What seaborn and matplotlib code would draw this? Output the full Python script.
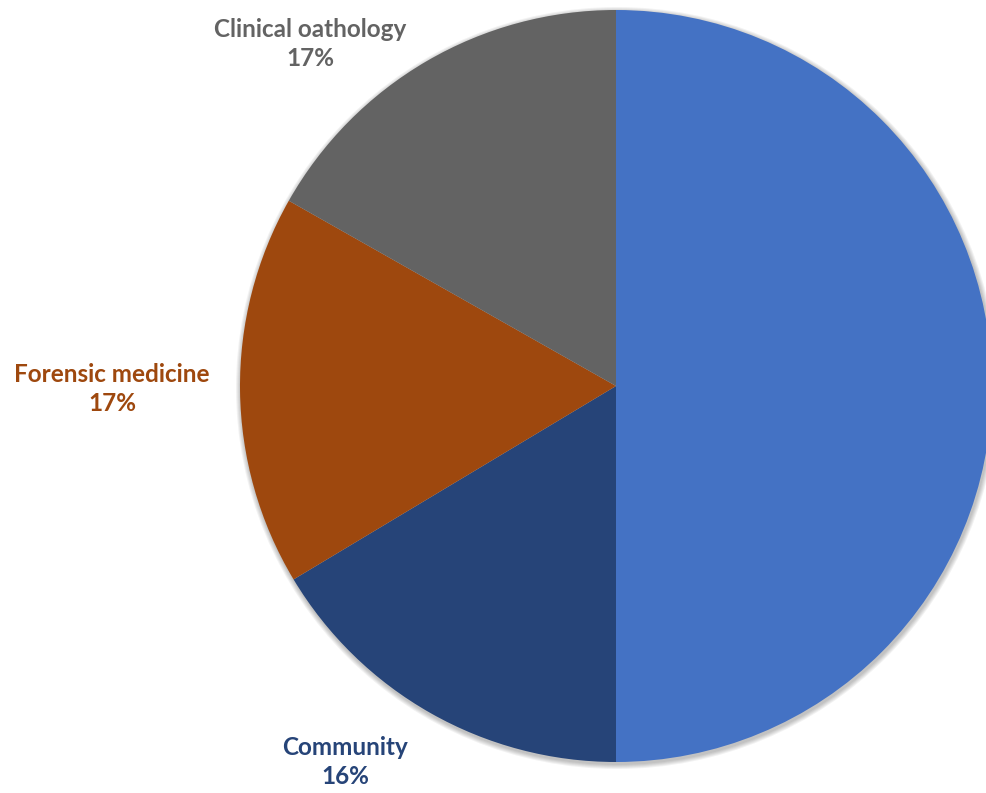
import matplotlib
matplotlib.use("Agg")
import matplotlib.pyplot as plt
from matplotlib.patches import Circle
import seaborn as sns

# slice data (clockwise from 12 o'clock); the big blue slice carries no visible label
categories = ["", "Community", "Forensic medicine", "Clinical oathology"]
shares = [50, 16.4, 16.8, 16.8]
slice_colors = ["#4472C4", "#264478", "#9E480E", "#636363"]
label_colors = ["#4472C4", "#264478", "#9E480E", "#636363"]


def main():
    sns.set_theme(style="white")
    plt.rcParams["font.family"] = ["Lato", "DejaVu Sans"]

    fig = plt.figure(figsize=(9.87, 7.93), dpi=100)
    ax = fig.add_axes([0, 0, 1, 1])

    cx, cy, r = 616, 407, 376
    # soft shadow round the pie
    for k in range(1, 6):
        ax.add_patch(Circle((cx + 1, cy - 2), r + k, color="black",
                            alpha=0.05, zorder=0, linewidth=0))

    ax.pie(shares, colors=slice_colors, startangle=90, counterclock=False,
           center=(cx, cy), radius=r, frame=True,
           wedgeprops=dict(linewidth=0))
    ax.set_xlim(0, 987)
    ax.set_ylim(0, 793)
    ax.set_aspect("equal")
    ax.axis("off")

    # label spots (pixel coordinates, Excel "outside end" style)
    label_pos = [None, (345, 31), (112, 404), (310, 749)]
    for name, val, col, pos in zip(categories, shares, label_colors, label_pos):
        if not name:
            continue
        ax.text(pos[0], pos[1], f"{name}\n{val:.0f}%", ha="center", va="center",
                color=col, fontsize=17.5, fontweight="bold", linespacing=1.3)

    fig.savefig("out.png", dpi=100, facecolor="white")


if __name__ == '__main__':
    main()
